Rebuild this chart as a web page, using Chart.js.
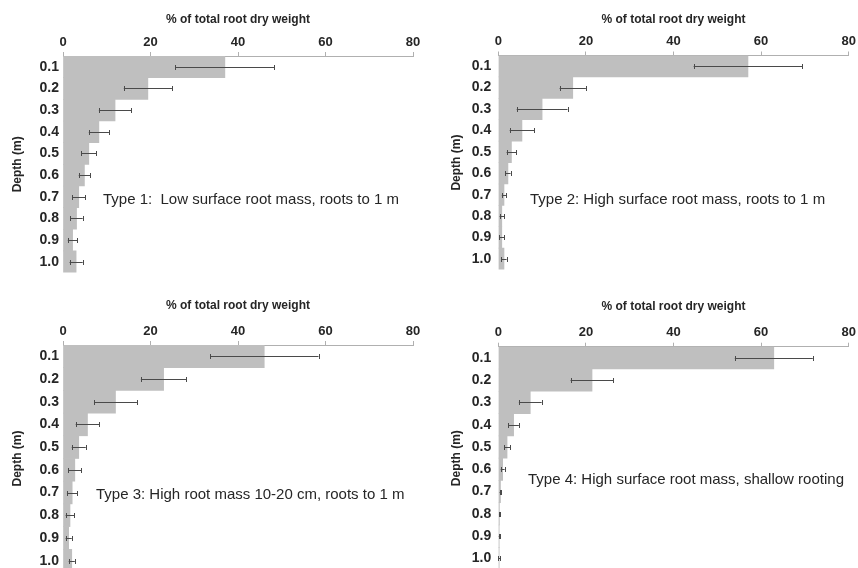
<!DOCTYPE html>
<html>
<head>
<meta charset="utf-8">
<script src="https://cdn.jsdelivr.net/npm/chart.js@4.4.0/dist/chart.umd.min.js"></script>
<style>
  html, body { margin: 0; padding: 0; width: 858px; height: 568px; overflow: hidden; background: #fff; }
  .panel { position: absolute; }
</style>
</head>
<body>
<div class="panel" style="left:0px;top:0px;width:429px;height:285px"><canvas id="c1"></canvas></div>
<div class="panel" style="left:429px;top:0px;width:429px;height:285px"><canvas id="c2"></canvas></div>
<div class="panel" style="left:0px;top:285px;width:429px;height:300px"><canvas id="c3"></canvas></div>
<div class="panel" style="left:429px;top:285px;width:429px;height:300px"><canvas id="c4"></canvas></div>
<script>
// ---- data ----
const depths = ["0.1", "0.2", "0.3", "0.4", "0.5", "0.6", "0.7", "0.8", "0.9", "1.0"];
const xTicks = [0, 20, 40, 60, 80];

const type1Mean = [37.0, 19.4, 11.9, 8.2, 5.9, 4.9, 3.6, 3.1, 2.2, 3.0];
const type1Err  = [11.3, 5.5, 3.7, 2.3, 1.7, 1.3, 1.5, 1.4, 1.1, 1.5];

const type2Mean = [57.0, 17.0, 10.0, 5.4, 3.0, 2.2, 1.3, 0.8, 0.8, 1.3];
const type2Err  = [12.4, 3.0, 5.8, 2.8, 1.1, 0.6, 0.5, 0.5, 0.6, 0.6];

const type3Mean = [46.0, 23.0, 12.0, 5.6, 3.6, 2.7, 2.1, 1.6, 1.3, 2.0];
const type3Err  = [12.4, 5.2, 4.9, 2.7, 1.6, 1.5, 1.2, 1.0, 0.7, 0.7];

const type4Mean = [62.9, 21.4, 7.3, 3.5, 2.0, 1.0, 0.5, 0.25, 0.2, 0.2];
const type4Err  = [8.9, 4.9, 2.6, 1.2, 0.7, 0.45, 0.2, 0.1, 0.1, 0.2];

const labels = [
  "Type 1:  Low surface root mass, roots to 1 m",
  "Type 2: High surface root mass, roots to 1 m",
  "Type 3: High root mass 10-20 cm, roots to 1 m",
  "Type 4: High surface root mass, shallow rooting"
];

const xTitle = "% of total root dry weight";
const yTitle = "Depth (m)";

const FONT = '"Liberation Sans", Arial, sans-serif';

// ---- plugins ----
const errorBarPlugin = {
  id: 'errorBars',
  afterDatasetsDraw(chart) {
    const errs = chart.options.plugins.errorBars.errors;
    const ds = chart.data.datasets[0].data;
    const xs = chart.scales.x, ys = chart.scales.y;
    const ctx = chart.ctx;
    ctx.save();
    ctx.strokeStyle = '#4a4a4a';
    ctx.lineWidth = 1;
    ds.forEach((v, i) => {
      const y = Math.round(ys.getPixelForValue(i)) + 0.5;
      const x0 = xs.getPixelForValue(Math.max(0, v - errs[i]));
      const x1 = xs.getPixelForValue(v + errs[i]);
      ctx.beginPath();
      ctx.moveTo(x0, y); ctx.lineTo(x1, y);
      ctx.moveTo(Math.round(x0) + 0.5, y - 2.5); ctx.lineTo(Math.round(x0) + 0.5, y + 2.5);
      ctx.moveTo(Math.round(x1) + 0.5, y - 2.5); ctx.lineTo(Math.round(x1) + 0.5, y + 2.5);
      ctx.stroke();
    });
    ctx.restore();
  }
};

const notePlugin = {
  id: 'note',
  afterDraw(chart) {
    const o = chart.options.plugins.note;
    const ctx = chart.ctx;
    ctx.save();
    ctx.fillStyle = '#262626';
    ctx.font = '15px ' + FONT;
    ctx.textBaseline = 'middle';
    ctx.textAlign = 'left';
    ctx.fillText(o.text, o.x, o.y);
    ctx.restore();
  }
};

function makeChart(id, mean, err, note, box) {
  const W = box.w, H = box.h;
  return new Chart(document.getElementById(id), {
    type: 'bar',
    data: {
      labels: depths,
      datasets: [{
        data: mean,
        backgroundColor: '#bfbfbf',
        borderWidth: 0,
        barPercentage: 1.0,
        categoryPercentage: 1.0
      }]
    },
    options: {
      indexAxis: 'y',
      responsive: true,
      maintainAspectRatio: false,
      animation: false,
      layout: { padding: { left: 0, top: 0, right: W - box.r, bottom: H - box.b } },
      plugins: {
        legend: { display: false },
        tooltip: { enabled: false },
        errorBars: { errors: err },
        note: note
      },
      scales: {
        x: {
          position: 'top',
          min: 0, max: 80,
          afterBuildTicks(s) { s.ticks = xTicks.map(v => ({ value: v })); },
          afterFit(s) { s.height = box.t; },
          ticks: {
            color: '#262626',
            font: { family: FONT, size: 13, weight: 'bold' },
            padding: 2
          },
          grid: { display: true, drawOnChartArea: false, drawTicks: true, tickLength: 4, color: '#b0b0b0' },
          border: { display: true, color: '#b0b0b0', width: 1 },
          title: {
            display: true, text: xTitle, color: '#262626',
            font: { family: FONT, size: 12, weight: 'bold' },
            padding: { top: box.titleTop, bottom: 0 }
          }
        },
        y: {
          afterFit(s) { s.width = box.l; },
          ticks: {
            color: '#262626',
            font: { family: FONT, size: 14, weight: 'bold' },
            padding: box.tickPad
          },
          grid: { display: false, drawTicks: false },
          border: { display: false },
          title: {
            display: true, text: yTitle, color: '#262626',
            font: { family: FONT, size: 12, weight: 'bold' },
            padding: { top: box.yTitlePad, bottom: 0 }
          }
        }
      }
    },
    plugins: [errorBarPlugin, notePlugin]
  });
}

makeChart('c1', type1Mean, type1Err, { text: labels[0], x: 103, y: 200 },
  { w: 429, h: 285, l: 63, t: 56, r: 413, b: 280.5, tickPad: 4, titleTop: 12.5, yTitlePad: 10 });
makeChart('c2', type2Mean, type2Err, { text: labels[1], x: 101, y: 200 },
  { w: 429, h: 285, l: 69.3, t: 55.5, r: 419.7, b: 282.5, tickPad: 7, titleTop: 12.5, yTitlePad: 20 });
makeChart('c3', type3Mean, type3Err, { text: labels[2], x: 96, y: 210 },
  { w: 429, h: 300, l: 63, t: 60, r: 413, b: 287, tickPad: 4, titleTop: 13, yTitlePad: 10 });
makeChart('c4', type4Mean, type4Err, { text: labels[3], x: 99, y: 195 },
  { w: 429, h: 300, l: 69.3, t: 61.7, r: 419.7, b: 287.7, tickPad: 7, titleTop: 14.5, yTitlePad: 20 });
</script>
</body>
</html>
